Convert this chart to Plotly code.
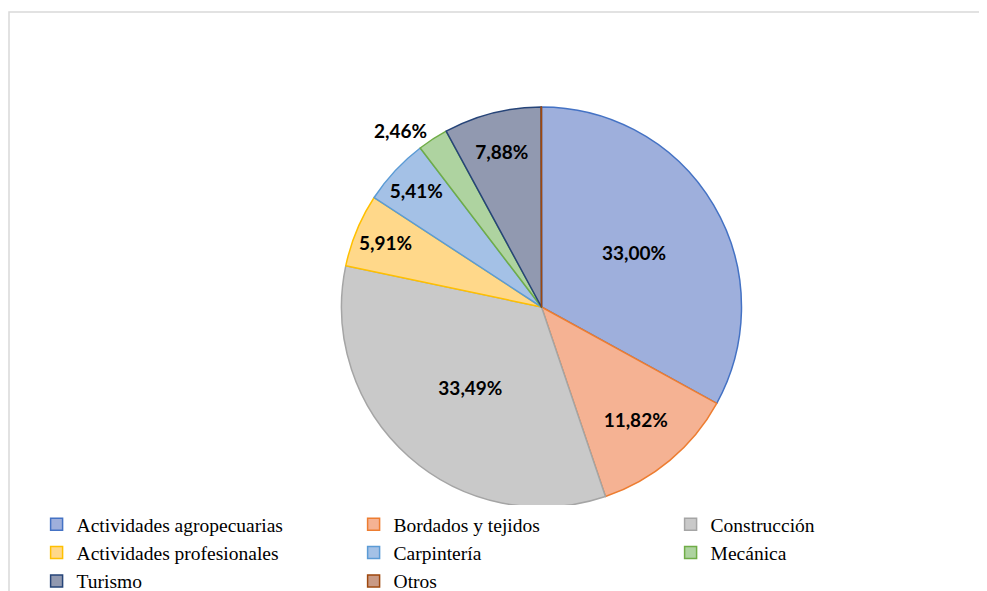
import plotly.graph_objects as go

# sectores y porcentajes
sectores = ["Actividades agropecuarias", "Bordados y tejidos", "Construcción",
            "Actividades profesionales", "Carpintería", "Mecánica", "Turismo", "Otros"]
porcentajes = [33.00, 11.82, 33.49, 5.91, 5.41, 2.46, 7.88, 0.03]

relleno = ["#9EAFDC", "#F5B293", "#C9C9C9", "#FFD88A", "#A4C1E6", "#AED3A0", "#9199B0", "#C99A85"]
borde = ["#4472C4", "#ED7D31", "#A5A5A5", "#FFC000", "#5B9BD5", "#70AD47", "#264478", "#9E480E"]

plantillas = ["%{percent:.2%}"] * 7 + [""]
posiciones = ["inside"] * 5 + ["outside", "inside", "inside"]

# la pagina tiene 8 px de margen: figura de 979x583 y todo corrido 8 px
W, H = 979, 583

fig = go.Figure(go.Pie(
    labels=sectores,
    values=porcentajes,
    sort=False,
    direction="clockwise",
    marker=dict(colors=relleno, line=dict(color=borde, width=1.5)),
    texttemplate=plantillas,
    textposition=posiciones,
    insidetextorientation="horizontal",
    textfont=dict(family="Lato", size=19, color="black", weight="bold"),
    outsidetextfont=dict(family="Lato", size=19, color="black", weight="bold"),
    domain=dict(x=[333 / W, 734 / W], y=[1 - 499 / H, 1 - 99 / H]),
    hoverinfo="label+percent",
))

fig.update_layout(
    width=W, height=H,
    margin=dict(l=0, r=0, t=0, b=0, autoexpand=False),
    paper_bgcolor="white",
    separators=",.",
    uniformtext=dict(minsize=19, mode="show"),
    showlegend=True,
    legend=dict(
        orientation="h",
        x=28.6 / W, y=1 - 497 / H, xanchor="left", yanchor="top",
        entrywidth=272, entrywidthmode="pixels",
        font=dict(family="Liberation Serif", size=19.5, color="black"),
        tracegroupgap=0, itemwidth=30,
    ),
    shapes=[dict(type="rect", xref="paper", yref="paper",
                 x0=1 / W, x1=1.02, y0=-0.02, y1=1 - 4 / H,
                 line=dict(color="#D9D9D9", width=1.5), fillcolor="rgba(0,0,0,0)")],
)

fig.write_html("out.html")
